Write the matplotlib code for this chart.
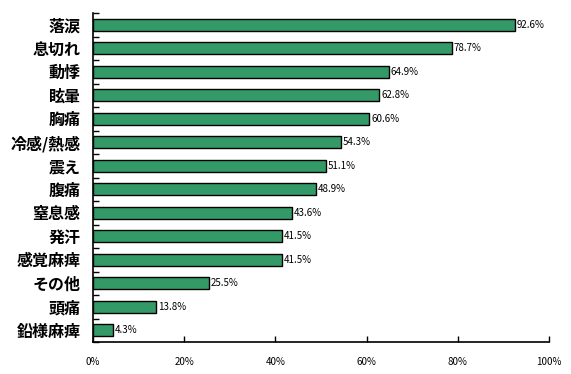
import matplotlib
matplotlib.use("Agg")
import matplotlib.pyplot as plt
import numpy as np

plt.rcParams['font.family'] = ['Noto Sans CJK JP', 'DejaVu Sans']

categories = ["落涙", "息切れ", "動悸", "眩暈", "胸痛", "冷感/熱感", "震え", "腹痛",
              "窒息感", "発汗", "感覚麻痺", "その他", "頭痛", "鉛様麻痺"]
values = [92.6, 78.7, 64.9, 62.8, 60.6, 54.3, 51.1, 48.9, 43.6, 41.5, 41.5, 25.5, 13.8, 4.3]
xticks = [0, 20, 40, 60, 80, 100]
xtick_labels = ["0%", "20%", "40%", "60%", "80%", "100%"]

fig = plt.figure(figsize=(5.71, 3.74), dpi=100)
ax = fig.add_axes([93/571, 1-342/374, (549-93)/571, (342-13)/374])

n = len(categories)
y = np.arange(n)
ax.barh(y, values, height=0.5, color="#339966", edgecolor="black", linewidth=1.0)
ax.set_xlim(0, 100)
ax.set_ylim(n - 0.5, -0.5)

for yi, v in zip(y, values):
    ax.text(v + 0.4, yi, f"{v:.1f}%", va="center", ha="left", fontsize=7)

ax.set_yticks(y)
ax.set_yticklabels(categories, fontsize=11.5, fontweight="bold")
ax.tick_params(axis="y", which="major", length=0, pad=9)
ax.set_yticks(np.arange(-0.5, n, 1.0), minor=True)
ax.tick_params(axis="y", which="minor", direction="in", length=4, width=1)

ax.set_xticks(xticks)
ax.set_xticklabels(xtick_labels, fontsize=7)
ax.tick_params(axis="x", direction="in", length=4, width=1, pad=11)

for s in ["top", "right"]:
    ax.spines[s].set_visible(False)
for s in ["left", "bottom"]:
    ax.spines[s].set_linewidth(1.2)

fig.savefig("out.png", dpi=100)
